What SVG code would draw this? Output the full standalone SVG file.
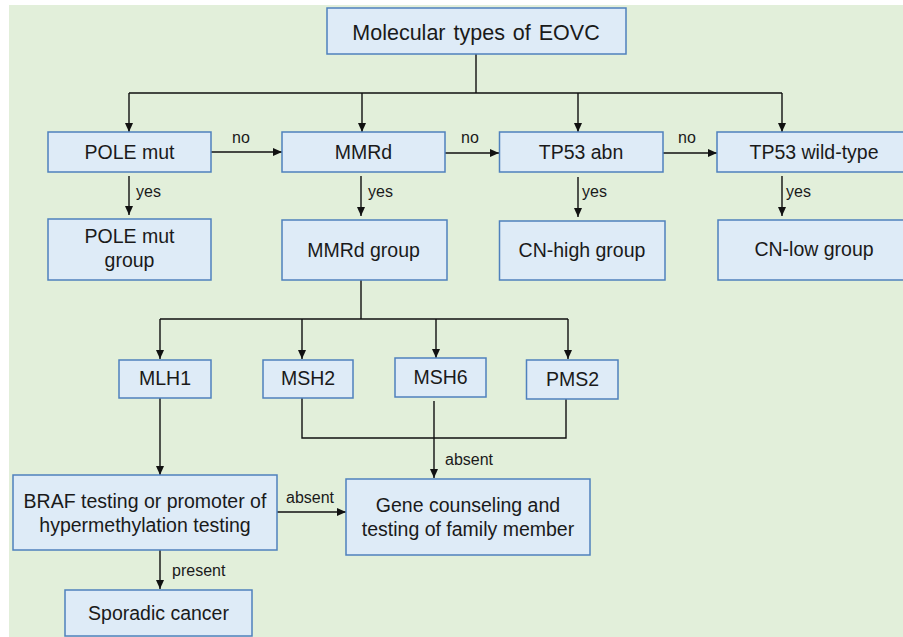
<svg xmlns="http://www.w3.org/2000/svg" width="903" height="637" viewBox="0 0 903 637">
<defs>
<marker id="ah" viewBox="0 0 9 8" refX="9" refY="4" markerWidth="9" markerHeight="8" markerUnits="userSpaceOnUse" orient="auto">
<path d="M0,0 L9,4 L0,8 z" fill="#111"/>
</marker>
<style>
.box{fill:#DEEBF7;stroke:#4F81BD;stroke-width:1.5}
.t{font-family:"Liberation Sans",Arial,sans-serif;font-size:19.5px;fill:#1a1a1a;text-anchor:middle}
.title{font-size:21.5px;word-spacing:2px}
.lbl{font-family:"Liberation Sans",Arial,sans-serif;font-size:16px;fill:#1a1a1a}
.c{fill:none;stroke:#111;stroke-width:1.4}
.a{marker-end:url(#ah)}
</style>
</defs>
<rect x="0" y="0" width="903" height="637" fill="#ffffff"/>
<rect x="9" y="5" width="894" height="632" fill="#E2EFDA"/>

<g id="connectors">
<path class="c" d="M476,54 V93 M129,93 H782"/>
<path class="c a" d="M129,93 V132"/>
<path class="c a" d="M362,93 V132"/>
<path class="c a" d="M578,93 V132"/>
<path class="c a" d="M782,93 V132"/>
<path class="c a" d="M211,152 H282"/>
<path class="c a" d="M445,153 H499"/>
<path class="c a" d="M663,153 H717"/>
<path class="c a" d="M129,176 V215"/>
<path class="c a" d="M361,176 V216"/>
<path class="c a" d="M578,177 V217"/>
<path class="c a" d="M782,176 V216"/>
<path class="c" d="M361,280 V319 M160,319 H568"/>
<path class="c a" d="M160,319 V359"/>
<path class="c a" d="M302,319 V359"/>
<path class="c a" d="M436,319 V358"/>
<path class="c a" d="M568,319 V359"/>
<path class="c" d="M302,398 V438 H566 V399"/>
<path class="c a" d="M434,401 V478"/>
<path class="c a" d="M160,398 V475"/>
<path class="c a" d="M277,512 H346"/>
<path class="c a" d="M160,550 V589"/>
<text class="lbl" x="232" y="143">no</text>
<text class="lbl" x="461" y="143">no</text>
<text class="lbl" x="678" y="143">no</text>
<text class="lbl" x="136" y="197">yes</text>
<text class="lbl" x="368" y="197">yes</text>
<text class="lbl" x="582" y="197">yes</text>
<text class="lbl" x="786" y="197">yes</text>
<text class="lbl" x="445" y="465">absent</text>
<text class="lbl" x="286" y="503">absent</text>
<text class="lbl" x="172" y="576">present</text>
</g>

<g id="n-root"><rect class="box" x="327" y="8" width="299" height="46"/><text class="t title" x="476" y="40">Molecular types of EOVC</text></g>
<g id="n-pole"><rect class="box" x="48" y="132" width="163" height="40"/><text class="t" x="129.5" y="159">POLE mut</text></g>
<g id="n-mmrd"><rect class="box" x="282" y="132" width="163" height="40"/><text class="t" x="363.5" y="159">MMRd</text></g>
<g id="n-tp53abn"><rect class="box" x="499.5" y="132" width="163.5" height="40"/><text class="t" x="581" y="159">TP53 abn</text></g>
<g id="n-tp53wt"><rect class="box" x="717" y="132" width="194" height="40"/><text class="t" x="814" y="159">TP53 wild-type</text></g>
<g id="n-polegrp"><rect class="box" x="48" y="219" width="163" height="61"/><text class="t" x="129.5" y="243">POLE mut</text><text class="t" x="129.5" y="267">group</text></g>
<g id="n-mmrdgrp"><rect class="box" x="282" y="220" width="165" height="60"/><text class="t" x="363.5" y="257">MMRd group</text></g>
<g id="n-cnhigh"><rect class="box" x="499.5" y="221" width="165.5" height="59"/><text class="t" x="582" y="257">CN-high group</text></g>
<g id="n-cnlow"><rect class="box" x="718" y="220" width="193" height="60"/><text class="t" x="814" y="256">CN-low group</text></g>
<g id="n-mlh1"><rect class="box" x="119" y="360" width="92" height="38"/><text class="t" x="165" y="385">MLH1</text></g>
<g id="n-msh2"><rect class="box" x="263" y="360" width="90" height="38"/><text class="t" x="308" y="385">MSH2</text></g>
<g id="n-msh6"><rect class="box" x="395" y="358" width="91" height="39"/><text class="t" x="440.5" y="384">MSH6</text></g>
<g id="n-pms2"><rect class="box" x="526.5" y="360" width="91.5" height="39"/><text class="t" x="572.5" y="386">PMS2</text></g>
<g id="n-braf"><rect class="box" x="13" y="475" width="264" height="75"/><text class="t" x="145" y="508">BRAF testing or promoter of</text><text class="t" x="145" y="532">hypermethylation testing</text></g>
<g id="n-gene"><rect class="box" x="346" y="479" width="244" height="76"/><text class="t" x="468" y="512">Gene counseling and</text><text class="t" x="468" y="536">testing of family member</text></g>
<g id="n-sporadic"><rect class="box" x="65" y="590" width="187" height="46"/><text class="t" x="158.5" y="620">Sporadic cancer</text></g>
</svg>
